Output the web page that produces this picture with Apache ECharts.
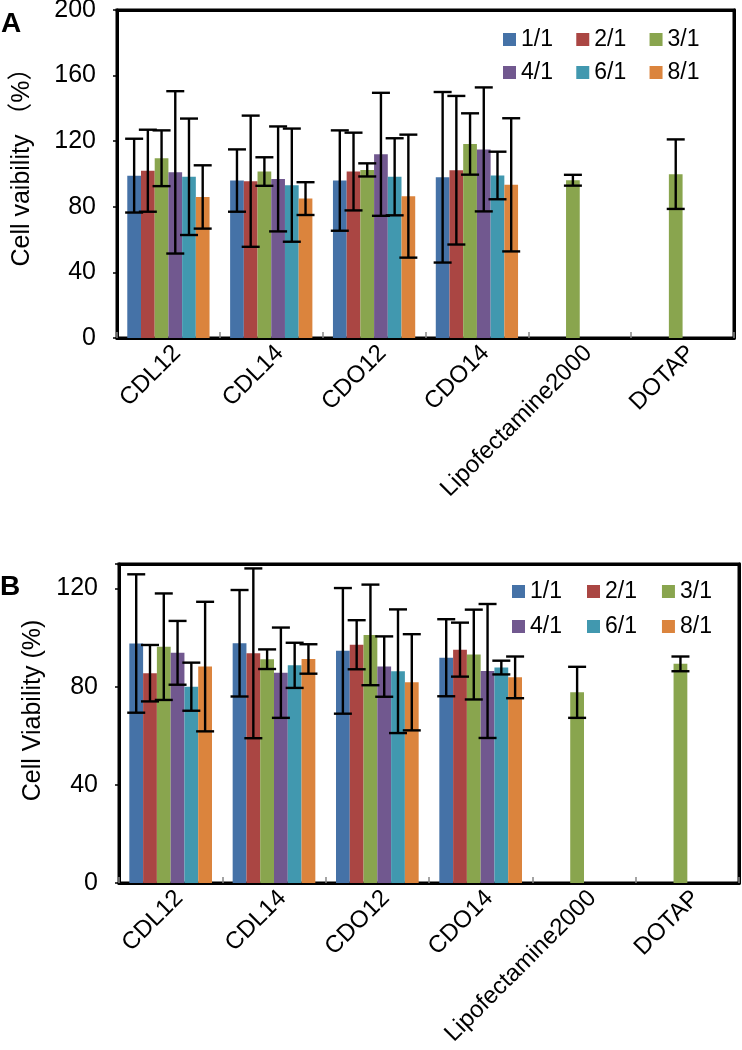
<!DOCTYPE html>
<html>
<head>
<meta charset="utf-8">
<script src="https://cdn.jsdelivr.net/npm/echarts@6/dist/echarts.min.js"></script>
<style>
html,body{margin:0;padding:0;background:#fff;}
#chart{width:742px;height:1050px;}
</style>
</head>
<body>
<div id="chart"></div>
<script>
const categories = ['CDL12', 'CDL14', 'CDO12', 'CDO14', 'Lipofectamine2000', 'DOTAP'];
const ratios = ['1/1', '2/1', '3/1', '4/1', '6/1', '8/1'];
const colors = ['#4572A7', '#AA4643', '#89A54E', '#71588F', '#4198AF', '#DB843D'];

// Panel A: mean cell viability (%) and error
const meanA_11 = [99, 96, 96, 98, null, null];
const meanA_21 = [102, 95.6, 101.5, 102.3, null, null];
const meanA_31 = [109.6, 101.5, 102.5, 118.3, 96.2, 99.9];
const meanA_41 = [101, 97, 112, 115, null, null];
const meanA_61 = [98.3, 93.2, 98.3, 99.1, null, null];
const meanA_81 = [86, 85, 86.5, 93.4, null, null];
const errA_11 = [22.5, 19, 30.6, 52, null, null];
const errA_21 = [25, 40, 23.7, 45.3, null, null];
const errA_31 = [17, 8.7, 4, 18.7, 3.3, 21.2];
const errA_41 = [49.5, 32, 37.5, 37.8, null, null];
const errA_61 = [35.5, 34.5, 23.5, 14.5, null, null];
const errA_81 = [19.3, 10, 37.5, 40.6, null, null];

// Panel B
const meanB_11 = [97.6, 97.7, 94.6, 91.8, null, null];
const meanB_21 = [85.5, 93.6, 97.1, 95.1, null, null];
const meanB_31 = [96.3, 91.2, 101.1, 93.1, 77.7, 89.3];
const meanB_41 = [93.8, 85.7, 88.2, 86.4, null, null];
const meanB_61 = [80, 88.7, 86.3, 87.8, null, null];
const meanB_81 = [88.2, 91.3, 81.8, 83.8, null, null];
const errB_11 = [28.2, 21.7, 25.6, 15.7, null, null];
const errB_21 = [11.5, 34.6, 10, 11, null, null];
const errB_31 = [21.7, 4, 20.5, 18.3, 10.4, 3];
const errB_41 = [13, 18.4, 12.3, 27.3, null, null];
const errB_61 = [9.8, 9.2, 25.2, 2.8, null, null];
const errB_81 = [26.4, 6, 19.6, 8.5, null, null];

const yTicksA = [0, 40, 80, 120, 160, 200];
const yTicksB = [0, 40, 80, 120];

const meansA = [meanA_11, meanA_21, meanA_31, meanA_41, meanA_61, meanA_81];
const errsA = [errA_11, errA_21, errA_31, errA_41, errA_61, errA_81];
const meansB = [meanB_11, meanB_21, meanB_31, meanB_41, meanB_61, meanB_81];
const errsB = [errB_11, errB_21, errB_31, errB_41, errB_61, errB_81];

const FONT = '"Liberation Sans", Arial, "Noto Sans CJK SC", sans-serif';
const CAT_GAP = 0.2;

function errorRenderer(si) {
  return function (params, api) {
    const cat = api.value(0), mean = api.value(1), err = api.value(2);
    const band = api.size([1, 0])[0];
    const groupW = band * (1 - CAT_GAP);
    const bw = groupW / ratios.length;
    const c = api.coord([cat, mean]);
    const x = c[0] - groupW / 2 + (si + 0.5) * bw;
    const yT = api.coord([cat, mean + err])[1];
    const yB = api.coord([cat, mean - err])[1];
    const h = 9;
    const st = { stroke: '#000', lineWidth: 2.4 };
    return {
      type: 'group',
      children: [
        { type: 'line', shape: { x1: x, y1: yT, x2: x, y2: yB }, style: st },
        { type: 'line', shape: { x1: x - h, y1: yT, x2: x + h, y2: yT }, style: st },
        { type: 'line', shape: { x1: x - h, y1: yB, x2: x + h, y2: yB }, style: st }
      ]
    };
  };
}

function buildSeries(means, errs, axisIdx) {
  const out = [];
  ratios.forEach((name, si) => {
    out.push({
      name: name, type: 'bar', xAxisIndex: axisIdx, yAxisIndex: axisIdx,
      data: means[si], barGap: '0%', barCategoryGap: (CAT_GAP * 100) + '%',
      itemStyle: { color: colors[si] }, z: 2, animation: false
    });
  });
  ratios.forEach((name, si) => {
    const d = [];
    means[si].forEach((m, ci) => { if (m != null && errs[si][ci] != null) d.push([ci, m, errs[si][ci]]); });
    out.push({
      type: 'custom', xAxisIndex: axisIdx, yAxisIndex: axisIdx,
      renderItem: errorRenderer(si), data: d, z: 5, animation: false, silent: true
    });
  });
  return out;
}

function xAxis(gi) {
  return {
    type: 'category', gridIndex: gi, data: categories, position: 'bottom',
    axisLine: { show: true, onZero: false, lineStyle: { color: '#000', width: 3 } },
    axisTick: { show: true, inside: true, length: 6, interval: 0, lineStyle: { color: '#888', width: 1.5 } },
    axisLabel: { interval: 0, rotate: 45, margin: 3, verticalAlign: 'top', fontSize: 24, color: '#000', fontFamily: FONT },
    splitLine: { show: false }
  };
}

function frameX(gi) {
  return {
    type: 'category', gridIndex: gi, data: categories, position: 'top',
    axisLine: { show: true, onZero: false, lineStyle: { color: '#000', width: 3 } },
    axisTick: { show: false }, axisLabel: { show: false }, splitLine: { show: false }
  };
}

function yAxis(gi, ticks, max, name, gap, pad) {
  return {
    type: 'value', gridIndex: gi, position: 'left', min: ticks[0], max: max, interval: ticks[1] - ticks[0],
    name: name, nameLocation: 'middle', nameGap: gap,
    nameTextStyle: { fontSize: 25, color: '#000', fontFamily: FONT, padding: pad },
    axisLine: { show: true, onZero: false, lineStyle: { color: '#000', width: 3 } },
    axisTick: { show: true, length: 4, lineStyle: { color: '#000', width: 1.5 } },
    axisLabel: { fontSize: 25, color: '#000', fontFamily: FONT, margin: 21,
      formatter: v => (ticks.indexOf(v) >= 0 ? String(v) : '') },
    splitLine: { show: false }
  };
}

function frameY(gi, ticks, max) {
  return {
    type: 'value', gridIndex: gi, position: 'right', min: ticks[0], max: max, interval: ticks[1] - ticks[0],
    axisLine: { show: true, onZero: false, lineStyle: { color: '#000', width: 3 } },
    axisTick: { show: false }, axisLabel: { show: false }, splitLine: { show: false }
  };
}

function legendRow(names, left, top, gap) {
  return {
    data: names, left: left, top: top, orient: 'horizontal', padding: 0,
    itemWidth: 13, itemHeight: 13, itemGap: gap, icon: 'rect', selectedMode: false,
    textStyle: { fontSize: 23, color: '#000', fontFamily: FONT }
  };
}

const chart = echarts.init(document.getElementById('chart'), null, { renderer: 'canvas' });
chart.setOption({
  animation: false,
  backgroundColor: '#fff',
  grid: [
    { left: 117, top: 10, right: 8, height: 328, show: true, borderColor: '#000', borderWidth: 3, containLabel: false, outerBoundsMode: 'none' },
    { left: 119, top: 564, right: 3, height: 319, show: true, borderColor: '#000', borderWidth: 3, containLabel: false, outerBoundsMode: 'none' }
  ],
  xAxis: [xAxis(0), xAxis(1), frameX(0), frameX(1)],
  yAxis: [
    yAxis(0, yTicksA, 200, 'Cell vaibility （%）', 82, [0, 0, 0, 26]),
    yAxis(1, yTicksB, 130, 'Cell Viability (%)', 70, [0, 0, 0, 26]),
    frameY(0, yTicksA, 200),
    frameY(1, yTicksB, 130)
  ],
  legend: [
    legendRow(ratios.slice(0, 3), 503, 28, 23.3),
    legendRow(ratios.slice(3, 6), 503, 61, 23.3),
    legendRow(ratios.slice(0, 3), 512, 580, 25),
    legendRow(ratios.slice(3, 6), 512, 615, 25)
  ],
  graphic: [
    { type: 'text', left: 1, top: 10, style: { text: 'A', font: 'bold 28px ' + FONT, fill: '#000' } },
    { type: 'text', left: 0, top: 573, style: { text: 'B', font: 'bold 28px ' + FONT, fill: '#000' } }
  ],
  series: buildSeries(meansA, errsA, 0).concat(buildSeries(meansB, errsB, 1))
});
</script>
</body>
</html>
